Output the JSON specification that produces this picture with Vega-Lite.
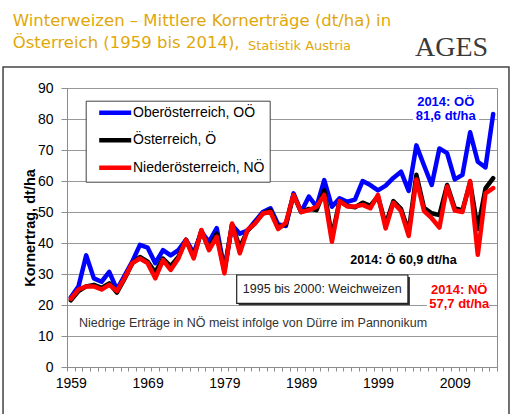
{
  "$schema": "https://vega.github.io/schema/vega-lite/v6.json",
  "width": 430,
  "height": 279,
  "autosize": {"type": "none"},
  "padding": {"left": 67, "top": 88, "right": 15, "bottom": 47},
  "background": "white",
  "config": {
    "font": "Liberation Sans",
    "view": {"stroke": "#8c8c8c", "strokeWidth": 1},
    "axis": {"labelOverlap": false}
  },
  "resolve": {"axis": {"x": "independent", "y": "independent"}},
  "datasets": {
    "ertrag": [
    {"Jahr":1959,"Region":"Oberösterreich, OÖ","dt":22.5},{"Jahr":1960,"Region":"Oberösterreich, OÖ","dt":26},{"Jahr":1961,"Region":"Oberösterreich, OÖ","dt":36},{"Jahr":1962,"Region":"Oberösterreich, OÖ","dt":28.6},{"Jahr":1963,"Region":"Oberösterreich, OÖ","dt":27.5},{"Jahr":1964,"Region":"Oberösterreich, OÖ","dt":30.7},{"Jahr":1965,"Region":"Oberösterreich, OÖ","dt":25},{"Jahr":1966,"Region":"Oberösterreich, OÖ","dt":29.5},{"Jahr":1967,"Region":"Oberösterreich, OÖ","dt":34},{"Jahr":1968,"Region":"Oberösterreich, OÖ","dt":39.4},{"Jahr":1969,"Region":"Oberösterreich, OÖ","dt":38.5},{"Jahr":1970,"Region":"Oberösterreich, OÖ","dt":33.5},{"Jahr":1971,"Region":"Oberösterreich, OÖ","dt":37.7},{"Jahr":1972,"Region":"Oberösterreich, OÖ","dt":36},{"Jahr":1973,"Region":"Oberösterreich, OÖ","dt":37.7},{"Jahr":1974,"Region":"Oberösterreich, OÖ","dt":41},{"Jahr":1975,"Region":"Oberösterreich, OÖ","dt":36.7},{"Jahr":1976,"Region":"Oberösterreich, OÖ","dt":43.6},{"Jahr":1977,"Region":"Oberösterreich, OÖ","dt":40.4},{"Jahr":1978,"Region":"Oberösterreich, OÖ","dt":44.8},{"Jahr":1979,"Region":"Oberösterreich, OÖ","dt":31.5},{"Jahr":1980,"Region":"Oberösterreich, OÖ","dt":45.8},{"Jahr":1981,"Region":"Oberösterreich, OÖ","dt":43},{"Jahr":1982,"Region":"Oberösterreich, OÖ","dt":44},{"Jahr":1983,"Region":"Oberösterreich, OÖ","dt":47},{"Jahr":1984,"Region":"Oberösterreich, OÖ","dt":50},{"Jahr":1985,"Region":"Oberösterreich, OÖ","dt":51.2},{"Jahr":1986,"Region":"Oberösterreich, OÖ","dt":46},{"Jahr":1987,"Region":"Oberösterreich, OÖ","dt":45.5},{"Jahr":1988,"Region":"Oberösterreich, OÖ","dt":56},{"Jahr":1989,"Region":"Oberösterreich, OÖ","dt":50},{"Jahr":1990,"Region":"Oberösterreich, OÖ","dt":55},{"Jahr":1991,"Region":"Oberösterreich, OÖ","dt":51.7},{"Jahr":1992,"Region":"Oberösterreich, OÖ","dt":60.3},{"Jahr":1993,"Region":"Oberösterreich, OÖ","dt":51.7},{"Jahr":1994,"Region":"Oberösterreich, OÖ","dt":54.4},{"Jahr":1995,"Region":"Oberösterreich, OÖ","dt":53.3},{"Jahr":1996,"Region":"Oberösterreich, OÖ","dt":54},{"Jahr":1997,"Region":"Oberösterreich, OÖ","dt":60},{"Jahr":1998,"Region":"Oberösterreich, OÖ","dt":58.7},{"Jahr":1999,"Region":"Oberösterreich, OÖ","dt":57},{"Jahr":2000,"Region":"Oberösterreich, OÖ","dt":58.5},{"Jahr":2001,"Region":"Oberösterreich, OÖ","dt":61},{"Jahr":2002,"Region":"Oberösterreich, OÖ","dt":63},{"Jahr":2003,"Region":"Oberösterreich, OÖ","dt":56.8},{"Jahr":2004,"Region":"Oberösterreich, OÖ","dt":71.5},{"Jahr":2005,"Region":"Oberösterreich, OÖ","dt":65},{"Jahr":2006,"Region":"Oberösterreich, OÖ","dt":58.7},{"Jahr":2007,"Region":"Oberösterreich, OÖ","dt":70.5},{"Jahr":2008,"Region":"Oberösterreich, OÖ","dt":69},{"Jahr":2009,"Region":"Oberösterreich, OÖ","dt":60.5},{"Jahr":2010,"Region":"Oberösterreich, OÖ","dt":62},{"Jahr":2011,"Region":"Oberösterreich, OÖ","dt":75.7},{"Jahr":2012,"Region":"Oberösterreich, OÖ","dt":66.2},{"Jahr":2013,"Region":"Oberösterreich, OÖ","dt":64.4},{"Jahr":2014,"Region":"Oberösterreich, OÖ","dt":81.6},
    {"Jahr":1959,"Region":"Österreich, Ö","dt":21.5},{"Jahr":1960,"Region":"Österreich, Ö","dt":24.5},{"Jahr":1961,"Region":"Österreich, Ö","dt":26},{"Jahr":1962,"Region":"Österreich, Ö","dt":26.5},{"Jahr":1963,"Region":"Österreich, Ö","dt":25.5},{"Jahr":1964,"Region":"Österreich, Ö","dt":27},{"Jahr":1965,"Region":"Österreich, Ö","dt":24},{"Jahr":1966,"Region":"Österreich, Ö","dt":28.5},{"Jahr":1967,"Region":"Österreich, Ö","dt":33.5},{"Jahr":1968,"Region":"Österreich, Ö","dt":35.5},{"Jahr":1969,"Region":"Österreich, Ö","dt":34},{"Jahr":1970,"Region":"Österreich, Ö","dt":30.5},{"Jahr":1971,"Region":"Österreich, Ö","dt":35},{"Jahr":1972,"Region":"Österreich, Ö","dt":32.5},{"Jahr":1973,"Region":"Österreich, Ö","dt":35.5},{"Jahr":1974,"Region":"Österreich, Ö","dt":41},{"Jahr":1975,"Region":"Österreich, Ö","dt":35.5},{"Jahr":1976,"Region":"Österreich, Ö","dt":44},{"Jahr":1977,"Region":"Österreich, Ö","dt":38},{"Jahr":1978,"Region":"Österreich, Ö","dt":43},{"Jahr":1979,"Region":"Österreich, Ö","dt":31},{"Jahr":1980,"Region":"Österreich, Ö","dt":46},{"Jahr":1981,"Region":"Österreich, Ö","dt":38.5},{"Jahr":1982,"Region":"Österreich, Ö","dt":44},{"Jahr":1983,"Region":"Österreich, Ö","dt":46.5},{"Jahr":1984,"Region":"Österreich, Ö","dt":49.5},{"Jahr":1985,"Region":"Österreich, Ö","dt":50.5},{"Jahr":1986,"Region":"Österreich, Ö","dt":45},{"Jahr":1987,"Region":"Österreich, Ö","dt":46},{"Jahr":1988,"Region":"Österreich, Ö","dt":55.5},{"Jahr":1989,"Region":"Österreich, Ö","dt":50},{"Jahr":1990,"Region":"Österreich, Ö","dt":51},{"Jahr":1991,"Region":"Österreich, Ö","dt":50.6},{"Jahr":1992,"Region":"Österreich, Ö","dt":57},{"Jahr":1993,"Region":"Österreich, Ö","dt":42},{"Jahr":1994,"Region":"Österreich, Ö","dt":53.5},{"Jahr":1995,"Region":"Österreich, Ö","dt":52},{"Jahr":1996,"Region":"Österreich, Ö","dt":51.5},{"Jahr":1997,"Region":"Österreich, Ö","dt":53},{"Jahr":1998,"Region":"Österreich, Ö","dt":52},{"Jahr":1999,"Region":"Österreich, Ö","dt":55},{"Jahr":2000,"Region":"Österreich, Ö","dt":46},{"Jahr":2001,"Region":"Österreich, Ö","dt":53.5},{"Jahr":2002,"Region":"Österreich, Ö","dt":51},{"Jahr":2003,"Region":"Österreich, Ö","dt":43.6},{"Jahr":2004,"Region":"Österreich, Ö","dt":62},{"Jahr":2005,"Region":"Österreich, Ö","dt":51.3},{"Jahr":2006,"Region":"Österreich, Ö","dt":49.6},{"Jahr":2007,"Region":"Österreich, Ö","dt":49},{"Jahr":2008,"Region":"Österreich, Ö","dt":58.7},{"Jahr":2009,"Region":"Österreich, Ö","dt":51.2},{"Jahr":2010,"Region":"Österreich, Ö","dt":50.5},{"Jahr":2011,"Region":"Österreich, Ö","dt":59.5},{"Jahr":2012,"Region":"Österreich, Ö","dt":44.5},{"Jahr":2013,"Region":"Österreich, Ö","dt":57.6},{"Jahr":2014,"Region":"Österreich, Ö","dt":60.9},
    {"Jahr":1959,"Region":"Niederösterreich, NÖ","dt":22},{"Jahr":1960,"Region":"Niederösterreich, NÖ","dt":25},{"Jahr":1961,"Region":"Niederösterreich, NÖ","dt":26},{"Jahr":1962,"Region":"Niederösterreich, NÖ","dt":26},{"Jahr":1963,"Region":"Niederösterreich, NÖ","dt":25},{"Jahr":1964,"Region":"Niederösterreich, NÖ","dt":26.5},{"Jahr":1965,"Region":"Niederösterreich, NÖ","dt":24.5},{"Jahr":1966,"Region":"Niederösterreich, NÖ","dt":28.7},{"Jahr":1967,"Region":"Niederösterreich, NÖ","dt":33.5},{"Jahr":1968,"Region":"Niederösterreich, NÖ","dt":35},{"Jahr":1969,"Region":"Niederösterreich, NÖ","dt":33.5},{"Jahr":1970,"Region":"Niederösterreich, NÖ","dt":28.6},{"Jahr":1971,"Region":"Niederösterreich, NÖ","dt":34.5},{"Jahr":1972,"Region":"Niederösterreich, NÖ","dt":31.3},{"Jahr":1973,"Region":"Niederösterreich, NÖ","dt":35},{"Jahr":1974,"Region":"Niederösterreich, NÖ","dt":41},{"Jahr":1975,"Region":"Niederösterreich, NÖ","dt":35},{"Jahr":1976,"Region":"Niederösterreich, NÖ","dt":44.2},{"Jahr":1977,"Region":"Niederösterreich, NÖ","dt":37.7},{"Jahr":1978,"Region":"Niederösterreich, NÖ","dt":42},{"Jahr":1979,"Region":"Niederösterreich, NÖ","dt":30.2},{"Jahr":1980,"Region":"Niederösterreich, NÖ","dt":46.3},{"Jahr":1981,"Region":"Niederösterreich, NÖ","dt":36.7},{"Jahr":1982,"Region":"Niederösterreich, NÖ","dt":44.2},{"Jahr":1983,"Region":"Niederösterreich, NÖ","dt":46.3},{"Jahr":1984,"Region":"Niederösterreich, NÖ","dt":49.5},{"Jahr":1985,"Region":"Niederösterreich, NÖ","dt":50},{"Jahr":1986,"Region":"Niederösterreich, NÖ","dt":44.5},{"Jahr":1987,"Region":"Niederösterreich, NÖ","dt":46.5},{"Jahr":1988,"Region":"Niederösterreich, NÖ","dt":55.5},{"Jahr":1989,"Region":"Niederösterreich, NÖ","dt":50},{"Jahr":1990,"Region":"Niederösterreich, NÖ","dt":50.6},{"Jahr":1991,"Region":"Niederösterreich, NÖ","dt":51.7},{"Jahr":1992,"Region":"Niederösterreich, NÖ","dt":55.5},{"Jahr":1993,"Region":"Niederösterreich, NÖ","dt":40.4},{"Jahr":1994,"Region":"Niederösterreich, NÖ","dt":53.5},{"Jahr":1995,"Region":"Niederösterreich, NÖ","dt":51.8},{"Jahr":1996,"Region":"Niederösterreich, NÖ","dt":51.8},{"Jahr":1997,"Region":"Niederösterreich, NÖ","dt":52.3},{"Jahr":1998,"Region":"Niederösterreich, NÖ","dt":51.2},{"Jahr":1999,"Region":"Niederösterreich, NÖ","dt":55.5},{"Jahr":2000,"Region":"Niederösterreich, NÖ","dt":44.7},{"Jahr":2001,"Region":"Niederösterreich, NÖ","dt":53},{"Jahr":2002,"Region":"Niederösterreich, NÖ","dt":50.3},{"Jahr":2003,"Region":"Niederösterreich, NÖ","dt":42.3},{"Jahr":2004,"Region":"Niederösterreich, NÖ","dt":60.5},{"Jahr":2005,"Region":"Niederösterreich, NÖ","dt":50.3},{"Jahr":2006,"Region":"Niederösterreich, NÖ","dt":48},{"Jahr":2007,"Region":"Niederösterreich, NÖ","dt":45},{"Jahr":2008,"Region":"Niederösterreich, NÖ","dt":58.2},{"Jahr":2009,"Region":"Niederösterreich, NÖ","dt":50.5},{"Jahr":2010,"Region":"Niederösterreich, NÖ","dt":50},{"Jahr":2011,"Region":"Niederösterreich, NÖ","dt":60},{"Jahr":2012,"Region":"Niederösterreich, NÖ","dt":36.2},{"Jahr":2013,"Region":"Niederösterreich, NÖ","dt":56},{"Jahr":2014,"Region":"Niederösterreich, NÖ","dt":57.7}
    ],
    "eins": [{}]
  },
  "layer": [
    {
      "data": {"name": "ertrag"},
      "mark": {"type": "line", "strokeWidth": 4.5, "strokeJoin": "round", "strokeCap": "round"},
      "encoding": {
        "x": {
          "field": "Jahr", "type": "quantitative",
          "scale": {"domain": [1958.5, 2014.5], "nice": false, "zero": false},
          "axis": {
            "title": null, "grid": false,
            "values": [1958.5,1959.5,1960.5,1961.5,1962.5,1963.5,1964.5,1965.5,1966.5,1967.5,1968.5,1969.5,1970.5,1971.5,1972.5,1973.5,1974.5,1975.5,1976.5,1977.5,1978.5,1979.5,1980.5,1981.5,1982.5,1983.5,1984.5,1985.5,1986.5,1987.5,1988.5,1989.5,1990.5,1991.5,1992.5,1993.5,1994.5,1995.5,1996.5,1997.5,1998.5,1999.5,2000.5,2001.5,2002.5,2003.5,2004.5,2005.5,2006.5,2007.5,2008.5,2009.5,2010.5,2011.5,2012.5,2013.5,2014.5],
            "labelExpr": "(datum.value + 0.5 - 1959) % 10 == 0 ? format(datum.value + 0.5, 'd') : ''",
            "labelOffset": 3.84, "labelOverlap": false, "labelFlush": false, "labelBound": false,
            "labelFontSize": 14, "labelColor": "#000000", "labelPadding": 5,
            "tickSize": 4, "tickColor": "#8c8c8c", "domainColor": "#8c8c8c"
          }
        },
        "y": {
          "field": "dt", "type": "quantitative",
          "scale": {"domain": [0, 90], "nice": false},
          "axis": {
            "title": "Kornertrag, dt/ha", "titleFontSize": 14.5, "titleFontWeight": "bold", "titleColor": "#000000", "titlePadding": 0,
            "values": [0,10,20,30,40,50,60,70,80,90], "labelOverlap": false, "labelFlush": false,
            "grid": true, "gridColor": "#999999", "gridWidth": 1,
            "tickSize": 6, "tickColor": "#8c8c8c", "domainColor": "#8c8c8c",
            "labelFontSize": 14, "labelColor": "#000000", "labelPadding": 8
          }
        },
        "color": {
          "field": "Region", "type": "nominal",
          "scale": {"domain": ["Oberösterreich, OÖ", "Österreich, Ö", "Niederösterreich, NÖ"], "range": ["#0000FF", "#000000", "#FF0000"]},
          "legend": {
            "orient": "none", "legendX": 18.7, "legendY": 12.7, "title": null,
            "fillColor": "#ffffff", "strokeColor": "#404040", "padding": 5,
            "symbolType": "M-4,0H4", "symbolSize": 64, "symbolStrokeWidth": 4.5,
            "symbolOffset": 17.5, "labelOffset": 10.8, "rowPadding": 9.5,
            "labelFontSize": 14, "labelColor": "#000000",
            "labelExpr": "datum.label + '\u00a0\u00a0\u00a0'"
          }
        }
      }
    },
    {
      "data": {"name": "eins"},
      "mark": {"type": "rect", "fill": null, "stroke": "#444444", "strokeWidth": 1.5},
      "encoding": {
        "x": {"datum": 1950.17, "axis": null}, "x2": {"datum": 2016.06},
        "y": {"datum": 96.8, "axis": null}, "y2": {"datum": -17}
      }
    },
    {
      "data": {"name": "eins"},
      "mark": {"type": "text", "font": "DejaVu Sans", "fontSize": 16.5, "fill": "#DFA80A", "align": "left", "baseline": "alphabetic"},
      "encoding": {"x": {"datum": 1951.43, "axis": null}, "y": {"datum": 110.0, "axis": null}, "text": {"value": "Winterweizen – Mittlere Kornerträge (dt/ha) in"}}
    },
    {
      "data": {"name": "eins"},
      "mark": {"type": "text", "font": "DejaVu Sans", "fontSize": 16.5, "fill": "#DFA80A", "align": "left", "baseline": "alphabetic"},
      "encoding": {"x": {"datum": 1951.43, "axis": null}, "y": {"datum": 102.9, "axis": null}, "text": {"value": "Österreich (1959 bis 2014),"}}
    },
    {
      "data": {"name": "eins"},
      "mark": {"type": "text", "font": "DejaVu Sans", "fontSize": 13, "fill": "#DFA80A", "align": "left", "baseline": "alphabetic"},
      "encoding": {"x": {"datum": 1982.07, "axis": null}, "y": {"datum": 102.3, "axis": null}, "text": {"value": "Statistik Austria"}}
    },
    {
      "data": {"name": "eins"},
      "mark": {"type": "text", "font": "Liberation Serif", "fontSize": 28, "fill": "#3a3a3a", "align": "left", "baseline": "alphabetic"},
      "encoding": {"x": {"datum": 2003.82, "axis": null}, "y": {"datum": 100.3, "axis": null}, "text": {"value": "AGES"}}
    },
    {
      "data": {"name": "eins"},
      "mark": {"type": "rect", "fill": "#ffffff"},
      "encoding": {"x": {"datum": 2003.56, "axis": null}, "x2": {"datum": 2012.16}, "y": {"datum": 87.4, "axis": null}, "y2": {"datum": 78.4}}
    },
    {
      "data": {"name": "eins"},
      "mark": {"type": "rect", "fill": "#ffffff"},
      "encoding": {"x": {"datum": 2005.38, "axis": null}, "x2": {"datum": 2013.46}, "y": {"datum": 22.6, "axis": null}, "y2": {"datum": 17.4}}
    },
    {
      "data": {"name": "eins"},
      "mark": {"type": "rect", "fill": "#333333"},
      "encoding": {"x": {"datum": 1980.86, "axis": null}, "x2": {"datum": 2003.16}, "y": {"datum": 29.03, "axis": null}, "y2": {"datum": 19.9}}
    },
    {
      "data": {"name": "eins"},
      "mark": {"type": "rect", "fill": "#ffffff", "stroke": "#222222", "strokeWidth": 1.2},
      "encoding": {"x": {"datum": 1980.6, "axis": null}, "x2": {"datum": 2002.9}, "y": {"datum": 29.68, "axis": null}, "y2": {"datum": 20.55}}
    },
    {
      "data": {"name": "eins"},
      "mark": {"type": "text", "fontSize": 12.5, "fill": "#222222", "align": "center", "baseline": "middle"},
      "encoding": {"x": {"datum": 1991.75, "axis": null}, "y": {"datum": 25.1, "axis": null}, "text": {"value": "1995 bis 2000: Weichweizen"}}
    },
    {
      "data": {"name": "eins"},
      "mark": {"type": "text", "fontSize": 12.5, "fill": "#333333", "align": "left", "baseline": "middle"},
      "encoding": {"x": {"datum": 1960.06, "axis": null}, "y": {"datum": 14.1, "axis": null}, "text": {"value": "Niedrige Erträge in NÖ meist infolge von Dürre im Pannonikum"}}
    },
    {
      "data": {"name": "eins"},
      "mark": {"type": "text", "fontSize": 13, "fontWeight": "bold", "fill": "#0000FF", "align": "center", "baseline": "middle"},
      "encoding": {"x": {"datum": 2007.82, "axis": null}, "y": {"datum": 85.5, "axis": null}, "text": {"value": "2014: OÖ"}}
    },
    {
      "data": {"name": "eins"},
      "mark": {"type": "text", "fontSize": 13, "fontWeight": "bold", "fill": "#0000FF", "align": "center", "baseline": "middle"},
      "encoding": {"x": {"datum": 2007.82, "axis": null}, "y": {"datum": 80.97, "axis": null}, "text": {"value": "81,6 dt/ha"}}
    },
    {
      "data": {"name": "eins"},
      "mark": {"type": "text", "fontSize": 12.5, "fontWeight": "bold", "fill": "#000000", "align": "center", "baseline": "middle"},
      "encoding": {"x": {"datum": 2002.32, "axis": null}, "y": {"datum": 34.5, "axis": null}, "text": {"value": "2014: Ö 60,9 dt/ha"}}
    },
    {
      "data": {"name": "eins"},
      "mark": {"type": "text", "fontSize": 13, "fontWeight": "bold", "fill": "#FF0000", "align": "center", "baseline": "middle"},
      "encoding": {"x": {"datum": 2009.58, "axis": null}, "y": {"datum": 25.0, "axis": null}, "text": {"value": "2014: NÖ"}}
    },
    {
      "data": {"name": "eins"},
      "mark": {"type": "text", "fontSize": 13, "fontWeight": "bold", "fill": "#FF0000", "align": "center", "baseline": "middle"},
      "encoding": {"x": {"datum": 2009.58, "axis": null}, "y": {"datum": 20.32, "axis": null}, "text": {"value": "57,7 dt/ha"}}
    }
  ]
}
